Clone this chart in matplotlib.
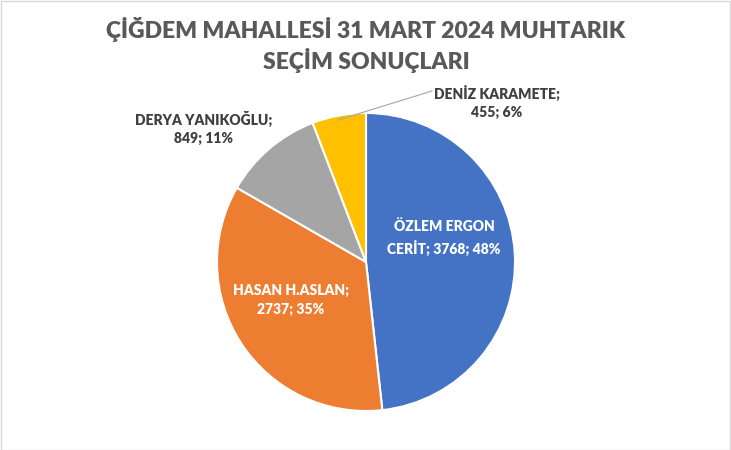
import matplotlib
matplotlib.use("Agg")
import matplotlib.pyplot as plt
from matplotlib.patches import Rectangle

names = ["ÖZLEM ERGON\nCERİT", "HASAN H.ASLAN", "DERYA YANIKOĞLU", "DENİZ KARAMETE"]
votes = [3768, 2737, 849, 455]
colors = ["#4472C4", "#ED7D31", "#A5A5A5", "#FFC000"]
title = "ÇİĞDEM MAHALLESİ 31 MART 2024 MUHTARIK\nSEÇİM SONUÇLARI"

W, H = 731, 450
fig = plt.figure(figsize=(W / 100, H / 100), dpi=100)
ax = fig.add_axes([0, 0, 1, 1])

FONT = ["Lato", "DejaVu Sans"]

ax.pie(votes, colors=colors, startangle=90, counterclock=False,
       center=(366, H - 262), radius=149,
       wedgeprops=dict(edgecolor="white", linewidth=1.5), frame=True)
ax.set_xlim(0, W)
ax.set_ylim(0, H)
ax.axis("off")

total = sum(votes)
pct = [round(v * 100 / total) for v in votes]

# label positions (pixel coords from top)
pos = [(444, 238), (291, 300), (204, 128), (497, 102)]
inside = [True, True, False, False]
for i, n in enumerate(names):
    s = f"{n}; {votes[i]}; {pct[i]}%" if i == 0 else f"{n};\n{votes[i]}; {pct[i]}%"
    ax.text(pos[i][0], H - pos[i][1], s, ha="center", va="center",
            fontsize=10, fontweight="heavy", family=FONT,
            color="white" if inside[i] else "#404040", linespacing=1.5)

# leader line for the small slice
ax.plot([338, 432], [H - 120, H - 91], color="#A6A6A6", lw=0.8)

fig.text(366 / W, 1 - 45 / H, title, ha="center", va="center",
         fontsize=16.5, fontweight="heavy", family=FONT, color="#595959",
         linespacing=1.3)

fig.patches.append(Rectangle((0.5 / W, 0.5 / H), 1 - 1.5 / W, 1 - 1.5 / H,
                             transform=fig.transFigure, fill=False,
                             edgecolor="#D9D9D9", lw=1))

fig.savefig("out.png", dpi=100, facecolor="white")
